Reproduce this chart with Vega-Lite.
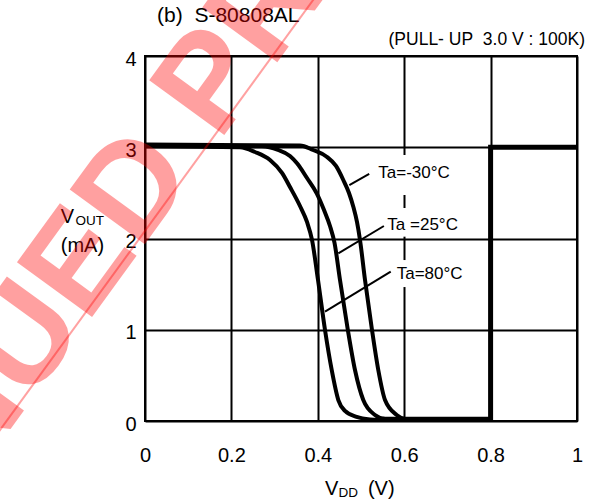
{
  "$schema": "https://vega.github.io/schema/vega-lite/v6.json",
  "width": 432,
  "height": 365,
  "autosize": {"type": "none"},
  "padding": {"left": 145, "top": 56, "right": 14, "bottom": 82},
  "background": "white",
  "config": {"view": {"stroke": "black", "strokeWidth": 2}, "font": "Liberation Sans"},
  "datasets": {
    "curves": [
      {"ta": "80", "x": 0, "y": 3.01}, {"ta": "80", "x": 0.2199, "y": 3.0}, {"ta": "80", "x": 0.2546, "y": 2.948},
      {"ta": "80", "x": 0.2894, "y": 2.86}, {"ta": "80", "x": 0.3171, "y": 2.718}, {"ta": "80", "x": 0.3356, "y": 2.564},
      {"ta": "80", "x": 0.3588, "y": 2.356}, {"ta": "80", "x": 0.375, "y": 2.181}, {"ta": "80", "x": 0.3866, "y": 1.984},
      {"ta": "80", "x": 0.4005, "y": 1.545}, {"ta": "80", "x": 0.4167, "y": 0.997}, {"ta": "80", "x": 0.4322, "y": 0.559},
      {"ta": "80", "x": 0.4475, "y": 0.23}, {"ta": "80", "x": 0.463, "y": 0.11}, {"ta": "80", "x": 0.49, "y": 0.044},
      {"ta": "80", "x": 0.5208, "y": 0.016}, {"ta": "80", "x": 0.544, "y": 0.011},
      {"ta": "25", "x": 0, "y": 3.02}, {"ta": "25", "x": 0.2708, "y": 3.01}, {"ta": "25", "x": 0.3079, "y": 2.97},
      {"ta": "25", "x": 0.3356, "y": 2.904}, {"ta": "25", "x": 0.3519, "y": 2.824}, {"ta": "25", "x": 0.375, "y": 2.663},
      {"ta": "25", "x": 0.3975, "y": 2.495}, {"ta": "25", "x": 0.4144, "y": 2.312}, {"ta": "25", "x": 0.4282, "y": 2.137},
      {"ta": "25", "x": 0.4387, "y": 1.951}, {"ta": "25", "x": 0.4514, "y": 1.545}, {"ta": "25", "x": 0.4688, "y": 1.019},
      {"ta": "25", "x": 0.4861, "y": 0.559}, {"ta": "25", "x": 0.5053, "y": 0.23}, {"ta": "25", "x": 0.5324, "y": 0.066},
      {"ta": "25", "x": 0.5556, "y": 0.022}, {"ta": "25", "x": 0.5787, "y": 0.016},
      {"ta": "-30", "x": 0, "y": 3.03}, {"ta": "-30", "x": 0.3588, "y": 3.02}, {"ta": "-30", "x": 0.3889, "y": 2.97},
      {"ta": "-30", "x": 0.4206, "y": 2.896}, {"ta": "-30", "x": 0.4421, "y": 2.795}, {"ta": "-30", "x": 0.459, "y": 2.641},
      {"ta": "-30", "x": 0.4722, "y": 2.499}, {"ta": "-30", "x": 0.4822, "y": 2.348}, {"ta": "-30", "x": 0.4907, "y": 2.181},
      {"ta": "-30", "x": 0.4977, "y": 1.984}, {"ta": "-30", "x": 0.5093, "y": 1.545}, {"ta": "-30", "x": 0.5248, "y": 1.019},
      {"ta": "-30", "x": 0.54, "y": 0.559}, {"ta": "-30", "x": 0.5556, "y": 0.23}, {"ta": "-30", "x": 0.5826, "y": 0.066},
      {"ta": "-30", "x": 0.6019, "y": 0.022}, {"ta": "-30", "x": 0.625, "y": 0.016}
    ],
    "step": [
      {"k": 1, "x": 0.55, "y": 0.02}, {"k": 2, "x": 0.8, "y": 0.02},
      {"k": 3, "x": 0.8, "y": 3.0}, {"k": 4, "x": 1.0, "y": 3.0}
    ],
    "gaps": [
      {"x": 0.58, "x2": 0.62, "y": 2.477, "y2": 2.915},
      {"x": 0.58, "x2": 0.62, "y": 2.02, "y2": 2.334},
      {"x": 0.58, "x2": 0.62, "y": 1.468, "y2": 1.764}
    ],
    "leaders": [
      {"x": 0.473, "y": 2.586, "x2": 0.519, "y2": 2.707},
      {"x": 0.4475, "y": 1.838, "x2": 0.553, "y2": 2.137},
      {"x": 0.4167, "y": 1.198, "x2": 0.5688, "y2": 1.636}
    ],
    "labels": [
      {"text": "Ta=-30°C", "x": 0.54, "y": 2.66},
      {"text": "Ta =25°C", "x": 0.561, "y": 2.093},
      {"text": "Ta=80°C", "x": 0.5826, "y": 1.553}
    ],
    "texts": [
      {"kind": "title", "text": "(b)\u00a0 S-80808AL", "x": 0.028, "y": 4.376},
      {"kind": "sub", "text": "(PULL- UP\u00a0 3.0 V : 100K)", "x": 1.0185, "y": 4.12},
      {"kind": "big", "text": "V", "x": -0.195, "y": 2.17},
      {"kind": "big", "text": "(mA)", "x": -0.195, "y": 1.852},
      {"kind": "big", "text": "V", "x": 0.4167, "y": -0.811},
      {"kind": "big", "text": "(V)", "x": 0.516, "y": -0.811},
      {"kind": "small", "text": "OUT", "x": -0.161, "y": 2.148},
      {"kind": "small", "text": "DD", "x": 0.448, "y": -0.833}
    ],
    "watermark": [
      {"text": "DISCONTINUED PRODUCT", "x": -0.176, "y": 1.556}
    ],
    "wline": [
      {"x": 0.406, "y": 4.723, "x2": -0.3588, "y2": -0.249}
    ]
  },
  "layer": [
    {
      "data": {"name": "gaps"},
      "mark": {"type": "rect", "color": "white"},
      "encoding": {
        "x": {"field": "x", "type": "quantitative", "scale": {"domain": [0, 1]}, "title": null,
          "axis": {"values": [0, 0.2, 0.4, 0.6, 0.8, 1], "format": "~g", "title": null, "grid": true,
            "gridColor": "black", "gridWidth": 2, "gridOpacity": 1, "domain": false, "ticks": false,
            "labelFontSize": 20, "labelColor": "black", "labelPadding": 24, "labelFlush": false, "labelFont": "Liberation Sans"}},
        "x2": {"field": "x2"},
        "y": {"field": "y", "type": "quantitative", "scale": {"domain": [0, 4]}, "title": null,
          "axis": {"values": [0, 1, 2, 3, 4], "format": "~g", "title": null, "grid": true,
            "gridColor": "black", "gridWidth": 2, "gridOpacity": 1, "domain": false, "ticks": false,
            "labelFontSize": 20, "labelColor": "black", "labelPadding": 9, "labelFlush": false, "labelOffset": 3, "labelFont": "Liberation Sans"}},
        "y2": {"field": "y2"}
      }
    },
    {
      "data": {"name": "curves"},
      "mark": {"type": "line", "color": "black", "strokeWidth": 4, "interpolate": "monotone"},
      "encoding": {
        "x": {"field": "x", "type": "quantitative", "title": null},
        "y": {"field": "y", "type": "quantitative", "title": null},
        "detail": {"field": "ta"}
      }
    },
    {
      "data": {"name": "step"},
      "mark": {"type": "line", "color": "black", "strokeWidth": 5},
      "encoding": {
        "x": {"field": "x", "type": "quantitative", "title": null},
        "y": {"field": "y", "type": "quantitative", "title": null},
        "order": {"field": "k"}
      }
    },
    {
      "data": {"name": "leaders"},
      "mark": {"type": "rule", "color": "black", "strokeWidth": 2},
      "encoding": {
        "x": {"field": "x", "type": "quantitative", "title": null},
        "y": {"field": "y", "type": "quantitative", "title": null},
        "x2": {"field": "x2"},
        "y2": {"field": "y2"}
      }
    },
    {
      "data": {"name": "labels"},
      "mark": {"type": "text", "fontSize": 17, "align": "left", "baseline": "alphabetic", "color": "black"},
      "encoding": {
        "x": {"field": "x", "type": "quantitative", "title": null},
        "y": {"field": "y", "type": "quantitative", "title": null},
        "text": {"field": "text"}
      }
    },
    {
      "data": {"name": "texts"},
      "transform": [{"filter": "datum.kind === 'title'"}],
      "mark": {"type": "text", "fontSize": 21, "align": "left", "baseline": "alphabetic", "color": "black"},
      "encoding": {
        "x": {"field": "x", "type": "quantitative", "title": null},
        "y": {"field": "y", "type": "quantitative", "title": null},
        "text": {"field": "text"}
      }
    },
    {
      "data": {"name": "texts"},
      "transform": [{"filter": "datum.kind === 'sub'"}],
      "mark": {"type": "text", "fontSize": 17.5, "align": "right", "baseline": "alphabetic", "color": "black"},
      "encoding": {
        "x": {"field": "x", "type": "quantitative", "title": null},
        "y": {"field": "y", "type": "quantitative", "title": null},
        "text": {"field": "text"}
      }
    },
    {
      "data": {"name": "texts"},
      "transform": [{"filter": "datum.kind === 'big'"}],
      "mark": {"type": "text", "fontSize": 20, "align": "left", "baseline": "alphabetic", "color": "black"},
      "encoding": {
        "x": {"field": "x", "type": "quantitative", "title": null},
        "y": {"field": "y", "type": "quantitative", "title": null},
        "text": {"field": "text"}
      }
    },
    {
      "data": {"name": "texts"},
      "transform": [{"filter": "datum.kind === 'small'"}],
      "mark": {"type": "text", "fontSize": 13.5, "align": "left", "baseline": "alphabetic", "color": "black"},
      "encoding": {
        "x": {"field": "x", "type": "quantitative", "title": null},
        "y": {"field": "y", "type": "quantitative", "title": null},
        "text": {"field": "text"}
      }
    },
    {
      "data": {"name": "wline"},
      "mark": {"type": "rule", "color": "red", "strokeWidth": 2, "opacity": 0.37},
      "encoding": {
        "x": {"field": "x", "type": "quantitative", "title": null},
        "y": {"field": "y", "type": "quantitative", "title": null},
        "x2": {"field": "x2"},
        "y2": {"field": "y2"}
      }
    },
    {
      "data": {"name": "watermark"},
      "mark": {"type": "text", "fontSize": 135, "fontWeight": "bold", "angle": -54, "align": "center", "baseline": "middle", "color": "red", "opacity": 0.37},
      "encoding": {
        "x": {"field": "x", "type": "quantitative", "title": null},
        "y": {"field": "y", "type": "quantitative", "title": null},
        "text": {"field": "text"}
      }
    }
  ]
}
